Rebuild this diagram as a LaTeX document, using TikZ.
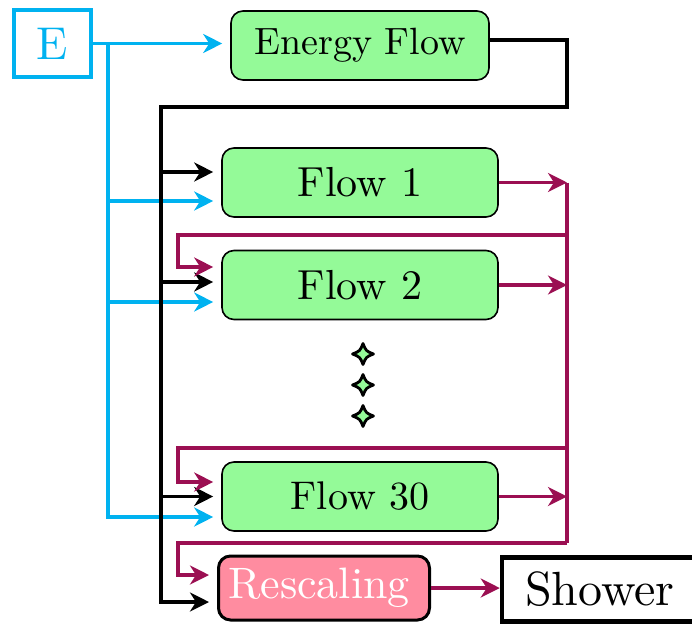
\documentclass[tikz,border=0pt]{standalone}
\usepackage{fontspec}
\setmainfont{lmroman10-regular}[Extension=.otf]
\usetikzlibrary{arrows.meta,calc}
\definecolor{cblue}{RGB}{0,178,240}
\definecolor{cmag}{RGB}{155,15,82}
\definecolor{cgreen}{RGB}{148,250,152}
\definecolor{cpink}{RGB}{255,140,160}
\tikzset{
  flowbox/.style={draw=black, line width=1.6pt, fill=cgreen, rounded corners=12pt,
    minimum width=276pt, minimum height=69pt, inner sep=0pt, font=\fontsize{42}{46}\selectfont},
  wire/.style={line width=3.5pt},
  tip/.style={-{Stealth[length=19pt,width=19pt,inset=6pt]}},
  into/.style={wire, tip, shorten >=8pt},
  sparkle/.pic={\draw[black, line width=2.8pt, fill=cgreen, line join=round]
     (0,-10.5) .. controls (3,-3) .. (10.5,0) .. controls (3,3) .. (0,10.5)
     .. controls (-3,3) .. (-10.5,0) .. controls (-3,-3) .. cycle;}
}
\begin{document}
\begin{tikzpicture}[x=1pt,y=-1pt]
\useasboundingbox (0,0) rectangle (692,626);
% nodes
\node[draw=cblue, line width=4pt, minimum width=77pt, minimum height=67pt, inner sep=0pt,
      text=cblue, font=\fontsize{46}{50}\selectfont] (E) at (52.5,43.5) {E};
\node[flowbox, minimum width=258pt, font=\fontsize{38}{42}\selectfont] (ef) at (360,45.5) {Energy Flow};
\node[flowbox] (f1) at (360,182.5) {Flow 1};
\node[flowbox] (f2) at (360,285) {Flow 2};
\node[flowbox, font=\fontsize{40}{44}\selectfont] (f30) at (360,496.5) {Flow 30};
\node[draw=black, line width=3pt, fill=cpink, rounded corners=12pt, minimum width=211pt,
      minimum height=64pt, inner sep=0pt, text=white, font=\fontsize{44}{48}\selectfont] (res) at (324,588) {\hspace*{-10pt}Rescaling};
\node[draw=black, line width=4.5pt, minimum width=196pt, minimum height=64pt, inner sep=0pt,
      font=\fontsize{48}{52}\selectfont] (sh) at (600,589.5) {Shower};
% sparkles
\pic at (363,354) {sparkle};
\pic at (363,385) {sparkle};
\pic at (363,416) {sparkle};
% coordinates
\coordinate (bj) at (108,44);
\coordinate (bk) at (161,107);
\coordinate (bkr) at (567,107);
\coordinate (fbx) at (178,0);
\coordinate (f1b) at ([yshift=-18.5pt]f1.west);
\coordinate (f2b) at ([yshift=-17pt]f2.west);
\coordinate (f30b) at ([yshift=-20.5pt]f30.west);
\coordinate (f1k) at ([yshift=10.5pt]f1.west);
\coordinate (f2k) at ([yshift=3pt]f2.west);
\coordinate (f30k) at (f30.west);
\coordinate (resk) at ([yshift=-14pt]res.west);
\coordinate (f2m) at ([yshift=18pt]f2.west);
\coordinate (f30m) at ([yshift=14.5pt]f30.west);
\coordinate (resm) at ([yshift=13pt]res.west);
\coordinate (eo) at ([yshift=5.5pt]ef.east);
\coordinate (m1) at (567,235);
\coordinate (m2) at (567,448);
\coordinate (m3) at (567,543);
% blue
\draw[into, cblue] (E.east) -- (E.east -| ef.west);
\draw[into, cblue] (bj) |- (f30b);
\draw[into, cblue] (bj |- f1b) -- (f1b);
\draw[into, cblue] (bj |- f2b) -- (f2b);
% black
\draw[into, black] (eo) -| (bkr) -- (bk) |- (resk);
\draw[into, black] (bk |- f1k) -- (f1k);
\draw[into, black] (bk |- f2k) -- (f2k);
\draw[into, black] (bk |- f30k) -- (f30k);
% magenta
\draw[wire, cmag] (f1.east -| bkr) -- (m3);
\draw[wire, tip, cmag] (f1.east) -- (f1.east -| bkr);
\draw[wire, tip, cmag] (f2.east) -- (f2.east -| bkr);
\draw[wire, tip, cmag] (f30.east) -- (f30.east -| bkr);
\draw[into, cmag] (m1) -- (m1 -| fbx) |- (f2m);
\draw[into, cmag] (m2) -- (m2 -| fbx) |- (f30m);
\draw[into, cmag] (m3) -- (m3 -| fbx) |- (resm);
\draw[wire, tip, cmag] (res.east) -- (res.east -| sh.west);
\end{tikzpicture}
\end{document}
